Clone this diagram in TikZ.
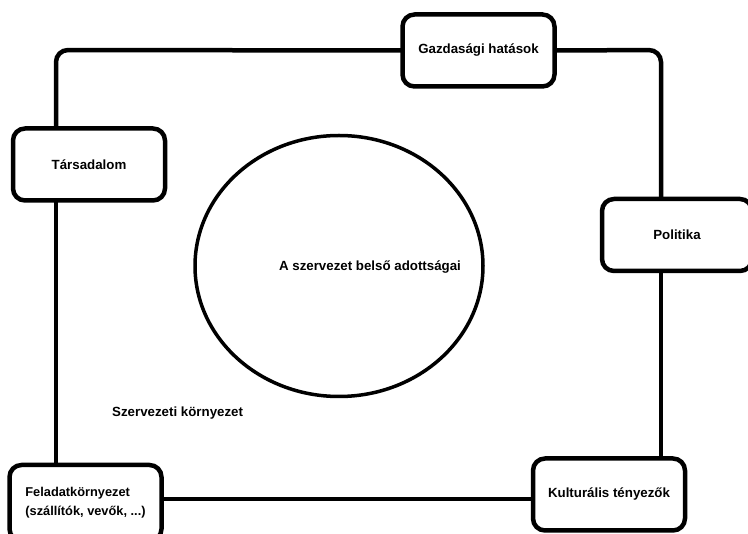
\documentclass[tikz,border=0pt]{standalone}
\usepackage{fontspec}
\setmainfont{Liberation Sans}
\usetikzlibrary{shapes.geometric}
\begin{document}
\begin{tikzpicture}[x=1pt,y=-1pt,
  box/.style={draw, line width=4.5, rounded corners=12, fill=white,
    minimum width=152, minimum height=72, inner sep=0, outer sep=0,
    font=\fontsize{13.3}{17}\selectfont\bfseries, align=center},
  frame/.style={line width=4.5, rounded corners=12},
  lbl/.style={font=\fontsize{13.3}{17}\selectfont\bfseries, inner sep=0}]
\path[use as bounding box] (0,0) rectangle (748,534);
\clip (0,0) rectangle (748,534);
\fill[white] (0,0) rectangle (748,534);
\coordinate (tl) at (56,50);
\coordinate (tr) at (661,50);
\node[box] (gazd) at (478.5,50.5) {Gazdasági hatások};
\node[box] (tars) at (89,164.5) {Társadalom};
\node[box, minimum width=150] (pol) at (677,235) {Politika};
\node[box] (kult) at (609,494.5) {Kulturális tényezők};
\node[box, align=left, minimum height=76, font=\fontsize{12.8}{19}\selectfont\bfseries] (fel) at (85.5,503) {Feladatkörnyezet\\(szállítók, vevők, ...)};
\draw[frame] (tars.north -| tl) -- (tl) -- (gazd.west);
\draw[frame] (gazd.east) -- (tr) -- (tr |- pol.north);
\draw[line width=4.5] (tr |- pol.south) -- (tr |- kult.north);
\draw[line width=4.5] (kult.west |- 0,499) -- (fel.east |- 0,499);
\draw[line width=4.5] (tars.south -| tl) -- (fel.north -| tl);
\node[draw, ellipse, line width=3.5, minimum width=288, minimum height=261, inner sep=0] (core) at (339,266) {};
\node[lbl] (coretext) at (370,267) {A szervezet belső adottságai};
\node[lbl, anchor=west] (env) at (112,413) {Szervezeti környezet};
\end{tikzpicture}
\end{document}
